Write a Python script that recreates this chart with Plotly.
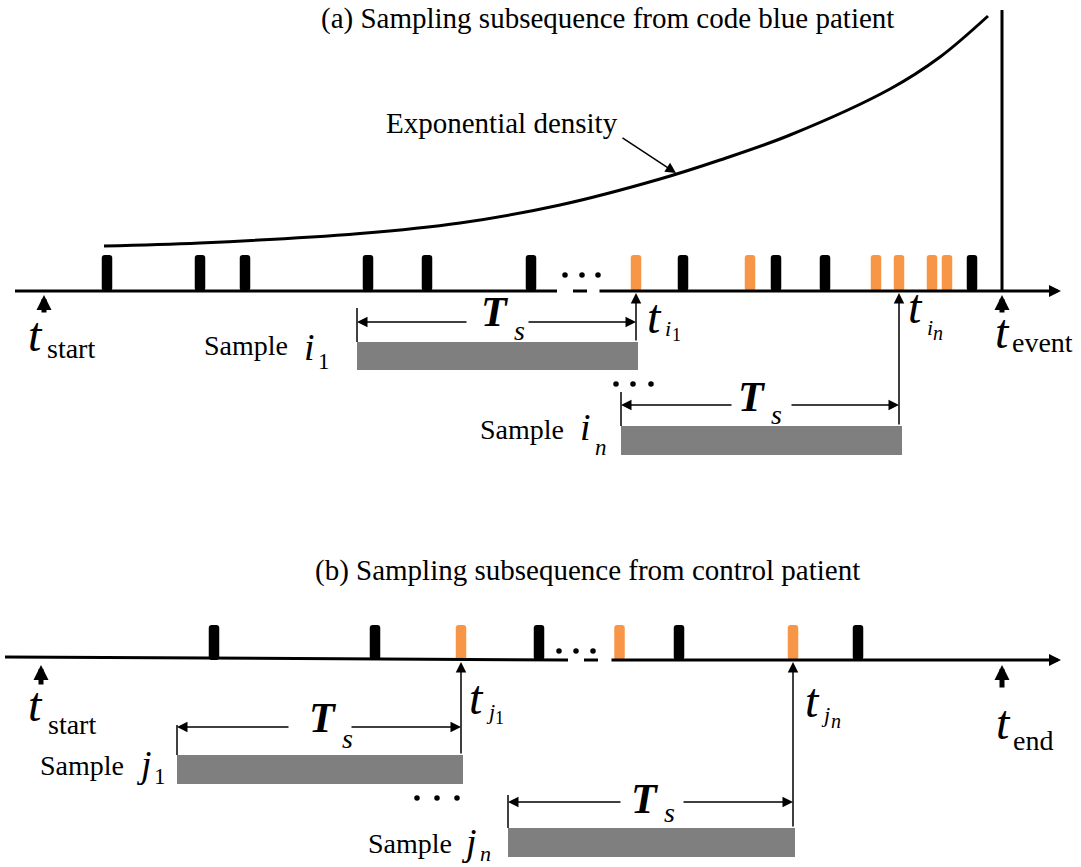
import plotly.graph_objects as go

# ---------------- data (pixel-time units) ----------------
# Panel (a): code blue patient
a_axis_y = 291
a_black_events = [107, 200, 245, 368, 427, 531, 683, 776, 825, 972]
a_orange_events = [636, 750, 876, 899, 932, 947]
a_bar_height = 36
a_t_start = 44
a_t_event = 1002
a_sample_i1 = [357, 637]     # window start, window end (t_i1)
a_sample_in = [621, 900]     # window start, window end (t_in)
density_x = [104, 200, 360, 460, 560, 660, 720, 790, 890, 940, 988]
density_y = [246, 243, 233.5, 223, 205, 179, 160, 135, 89, 57, 16]

# Panel (b): control patient
b_axis_y = 660
b_black_events = [214, 375, 539, 679, 858]
b_orange_events = [461, 619.5, 793]
b_bar_height = 35
b_t_start = 41
b_t_end = 1002
b_sample_j1 = [177, 462]
b_sample_jn = [508, 794]

ORANGE = "#F79646"
GRAY = "#7F7F7F"
FONT = "Liberation Serif, Times New Roman, serif"

fig = go.Figure()

# event bars
for xs, base, h, col in [
    (a_black_events, a_axis_y, a_bar_height, "black"),
    (a_orange_events, a_axis_y, a_bar_height, ORANGE),
    (b_black_events, b_axis_y, b_bar_height, "black"),
    (b_orange_events, b_axis_y, b_bar_height, ORANGE),
]:
    fig.add_trace(go.Bar(x=xs, y=[-h] * len(xs), base=[base] * len(xs), width=10.5,
                         marker=dict(color=col, line=dict(width=0), cornerradius=3),
                         hoverinfo="skip"))

# exponential density curve
fig.add_trace(go.Scatter(x=density_x, y=density_y, mode="lines",
                         line=dict(color="black", width=3, shape="spline", smoothing=1.0),
                         hoverinfo="skip"))

# ellipsis dots
dots_x = [565, 582, 598, 559, 576, 593, 616, 633, 651, 417, 437, 457]
dots_y = [275, 275, 275, 651, 651, 651, 384, 384, 384, 798, 798, 798]
fig.add_trace(go.Scatter(x=dots_x, y=dots_y, mode="markers",
                         marker=dict(color="black", size=5.5), hoverinfo="skip"))

shapes = []
def line(x0, y0, x1, y1, w=1.5):
    shapes.append(dict(type="line", x0=x0, y0=y0, x1=x1, y1=y1, xref="x", yref="y",
                       line=dict(color="black", width=w), layer="above"))

def rect(x0, y0, x1, y1):
    shapes.append(dict(type="rect", x0=x0, y0=y0, x1=x1, y1=y1, xref="x", yref="y",
                       fillcolor=GRAY, line=dict(width=0), layer="below"))

ann = []
def arrow(x0, y0, x1, y1, w=1.5, size=1.4, head=2):
    ann.append(dict(x=x1, y=y1, ax=x0, ay=y0, xref="x", yref="y", axref="x", ayref="y",
                    text="", showarrow=True, arrowhead=head, arrowwidth=w, arrowsize=size,
                    arrowcolor="black", standoff=0))

def txt(x, y, s, size=28, xanchor="left"):
    ann.append(dict(x=x, y=y, xref="x", yref="y", text=s, showarrow=False,
                    xanchor=xanchor, yanchor="middle",
                    font=dict(family=FONT, size=size, color="black")))

# ---- panel (a) axis ----
line(15, a_axis_y, 557, a_axis_y, 3)
line(573, a_axis_y, 587, a_axis_y, 3)
arrow(598, a_axis_y, 1061, a_axis_y, w=3, size=0.8)
line(a_t_event, 10, a_t_event, a_axis_y, 3)
arrow(a_t_start, 314, a_t_start, 295, w=5, size=0.6, head=2)
arrow(a_t_event, 314, a_t_event, 295, w=5, size=0.6, head=2)

# sample i1
rect(a_sample_i1[0], 342, a_sample_i1[1] + 1, 370)
line(a_sample_i1[0], 308, a_sample_i1[0], 342)
arrow(a_sample_i1[1] - 1, 342, a_sample_i1[1] - 1, 293)
arrow(468, 322, a_sample_i1[0], 322)
arrow(527, 322, a_sample_i1[1] - 1, 322)
# sample in
rect(a_sample_in[0], 426, a_sample_in[1] + 2, 455)
line(a_sample_in[0], 392, a_sample_in[0], 426)
arrow(a_sample_in[1] - 1, 426, a_sample_in[1] - 1, 293)
arrow(733, 405, a_sample_in[0], 405)
arrow(790, 405, a_sample_in[1] - 1, 405)

# ---- panel (b) axis ----
line(5, 657, 568, b_axis_y, 3)
line(584, b_axis_y, 598, b_axis_y, 3)
arrow(610, b_axis_y, 1061, b_axis_y, w=3, size=0.8)
arrow(b_t_start, 686, b_t_start, 665, w=5, size=0.6, head=2)
arrow(b_t_end, 689, b_t_end, 665, w=5, size=0.6, head=2)

rect(b_sample_j1[0], 755, b_sample_j1[1] + 1, 784)
line(b_sample_j1[0], 725, b_sample_j1[0], 755)
arrow(b_sample_j1[1] - 1, 755, b_sample_j1[1] - 1, 662)
arrow(290, 727, b_sample_j1[0], 727)
arrow(350, 727, b_sample_j1[1] - 1, 727)

rect(b_sample_jn[0], 828, b_sample_jn[1] + 1, 857)
line(b_sample_jn[0], 795, b_sample_jn[0], 828)
arrow(b_sample_jn[1] - 1, 828, b_sample_jn[1] - 1, 662)
arrow(622, 802, b_sample_jn[0], 802)
arrow(682, 802, b_sample_jn[1] - 1, 802)

# arrow for density label
arrow(621, 137, 676, 173, w=1.5, size=1.4)

# ---------------- text ----------------
txt(607, 18, "(a) Sampling subsequence from code blue patient", 29, "center")
txt(587, 570, "(b) Sampling subsequence from control patient", 29, "center")
txt(384, 123, "Exponential density", 29)

T_BIG = 48
def ts(x_join, yT, ys):
    txt(x_join, yT, "<b><i>T</i></b>", 42, "right")
    txt(x_join + 1, ys, "<i>s</i>", 28)

# panel (a) labels
txt(26, 334, "<i>t</i>", T_BIG); txt(45, 348.5, "start", 28)
txt(993, 331, "<i>t</i>", T_BIG); txt(1010, 342.5, "event", 28)
txt(645, 316, "<i>t</i>", T_BIG); txt(663, 328.5, "<i>i</i>", 22); txt(670, 335, "1", 18)
txt(906, 306, "<i>t</i>", T_BIG); txt(925, 327.5, "<i>i</i>", 22); txt(931, 333, "<i>n</i>", 20)
ts(511, 311.5, 330)
ts(768, 396.5, 414)
txt(202, 345.5, "Sample", 28); txt(302, 347, "<i>i</i>", 38); txt(316, 361, "1", 23)
txt(478, 429, "Sample", 28); txt(578, 427, "<i>i</i>", 38); txt(593, 447, "<i>n</i>", 23)

# panel (b) labels
txt(26, 704, "<i>t</i>", T_BIG); txt(46, 724.5, "start", 28)
txt(994, 722, "<i>t</i>", T_BIG); txt(1011, 740.5, "end", 28)
txt(467, 697, "<i>t</i>", T_BIG); txt(484, 711.5, "<i>j</i>", 22); txt(493, 718, "1", 18)
txt(803, 700, "<i>t</i>", T_BIG); txt(819, 714.5, "<i>j</i>", 22); txt(829, 721, "<i>n</i>", 20)
ts(339, 717.5, 738)
ts(661, 798.5, 812)
txt(38, 765.5, "Sample", 28); txt(134, 764, "<i>j</i>", 38); txt(152, 776, "1", 23)
txt(366, 843.5, "Sample", 28); txt(459, 842, "<i>j</i>", 38); txt(478, 853, "<i>n</i>", 22)

fig.update_layout(
    width=1081, height=867,
    margin=dict(l=0, r=0, t=0, b=0),
    paper_bgcolor="white", plot_bgcolor="white",
    showlegend=False, barmode="overlay",
    xaxis=dict(range=[0, 1081], visible=False, fixedrange=True),
    yaxis=dict(range=[867, 0], visible=False, fixedrange=True),
    shapes=shapes, annotations=ann,
)

fig.write_html("out.html", config={"displayModeBar": False})
